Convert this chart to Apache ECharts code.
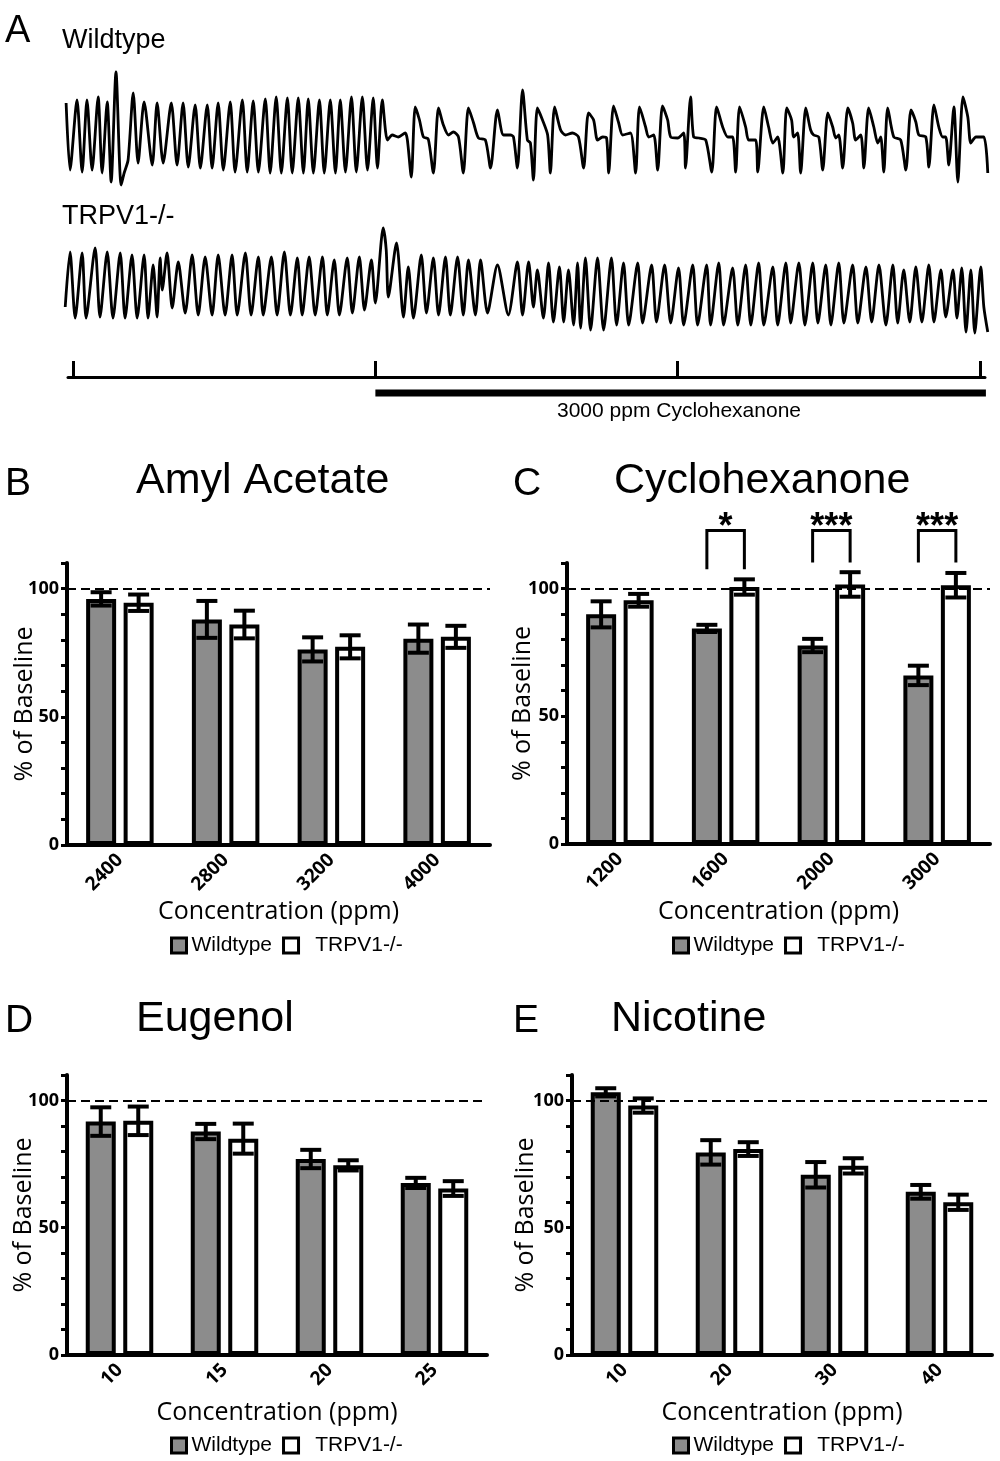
<!DOCTYPE html>
<html><head><meta charset="utf-8">
<script src="https://cdn.jsdelivr.net/npm/echarts@6/dist/echarts.min.js"></script>
<style>html,body{margin:0;padding:0;background:#fff}#c{width:1000px;height:1461px}</style>
</head><body><div id="c"></div>
<script>
// ---------- Panel A: respiratory traces (time in s, signal in a.u.) ----------
const wildtypeTrace = [[-0.23,3.4],[-0.10,-3.3],[0.13,3.7],[0.30,-3.5],[0.46,3.7],[0.63,-3.3],[0.83,4.0],[0.96,-3.6],[1.13,3.5],[1.26,-4.5],[1.42,6.5],[1.59,-4.8],[1.69,-3.6],[1.82,-2.3],[1.99,4.4],[2.15,-2.6],[2.35,3.5],[2.62,-2.8],[2.78,3.4],[2.98,-2.6],[3.25,3.4],[3.44,-2.8],[3.64,3.4],[3.81,-3.0],[4.04,3.2],[4.21,-3.1],[4.44,3.2],[4.60,-3.1],[4.80,3.4],[4.97,-3.3],[5.20,3.5],[5.36,-3.5],[5.60,3.7],[5.76,-3.5],[5.96,3.6],[6.13,-3.5],[6.36,3.8],[6.52,-3.6],[6.72,4.0],[6.89,-3.6],[7.09,3.9],[7.25,-3.6],[7.45,3.9],[7.62,-3.6],[7.78,3.8],[7.95,-3.6],[8.15,3.7],[8.31,-3.6],[8.51,3.7],[8.68,-3.6],[8.84,3.7],[9.01,-3.5],[9.21,4.0],[9.37,-3.5],[9.57,4.0],[9.74,-3.3],[9.93,3.9],[10.07,-3.1],[10.23,3.7],[10.40,-0.3],[10.56,0.2],[10.76,0.0],[10.99,0.4],[11.06,-0.3],[11.19,-4.0],[11.32,3.0],[11.46,1.7],[11.59,0.0],[11.75,-0.2],[11.92,-3.6],[12.09,2.9],[12.25,1.2],[12.42,0.2],[12.58,0.5],[12.75,0.0],[12.91,-3.6],[13.08,2.9],[13.25,1.4],[13.41,-0.1],[13.64,-0.3],[13.81,-3.1],[14.04,2.7],[14.24,0.2],[14.47,0.2],[14.57,0.0],[14.70,-3.1],[14.87,4.7],[15.03,-0.3],[15.13,-0.6],[15.23,-4.3],[15.36,2.9],[15.53,1.7],[15.70,0.2],[15.79,-3.6],[15.93,3.0],[16.13,0.7],[16.29,0.2],[16.52,0.4],[16.72,0.0],[16.89,-3.1],[17.05,2.4],[17.22,1.7],[17.35,-0.3],[17.52,0.0],[17.65,-0.1],[17.72,-3.6],[17.88,3.1],[18.05,1.4],[18.18,0.2],[18.44,0.4],[18.61,-3.6],[18.74,3.0],[18.94,1.0],[19.04,0.0],[19.21,0.2],[19.34,-3.3],[19.50,3.1],[19.67,1.7],[19.77,0.0],[20.00,-0.1],[20.20,0.4],[20.26,-3.1],[20.43,4.0],[20.53,0.0],[20.70,-0.1],[20.93,-0.3],[21.13,-3.5],[21.29,3.0],[21.49,1.0],[21.66,0.0],[21.82,0.0],[21.92,-3.5],[22.05,3.0],[22.25,1.0],[22.35,-0.3],[22.58,-0.3],[22.65,-3.5],[22.85,3.0],[23.01,1.0],[23.15,-0.6],[23.31,0.0],[23.48,-3.6],[23.61,2.9],[23.77,1.7],[23.84,0.0],[23.97,0.4],[24.07,-3.6],[24.24,2.9],[24.40,0.7],[24.50,0.2],[24.67,0.0],[24.80,-3.3],[24.97,2.4],[25.13,1.0],[25.23,-0.1],[25.33,0.2],[25.46,-3.1],[25.63,2.9],[25.79,1.4],[25.89,-0.3],[26.06,0.2],[26.16,-3.1],[26.32,2.9],[26.49,1.0],[26.62,-0.6],[26.72,0.0],[26.82,-3.5],[26.95,2.9],[27.15,0.0],[27.38,-0.3],[27.55,-3.3],[27.72,2.7],[27.88,1.5],[27.98,0.2],[28.21,0.0],[28.31,-3.0],[28.48,3.2],[28.64,1.0],[28.77,0.0],[28.87,0.0],[28.97,-2.8],[29.14,3.0],[29.27,-4.5],[29.44,4.0],[29.60,2.0],[29.70,-0.6],[29.87,0.0],[30.13,0.0],[30.26,-3.6]];
const knockoutTrace = [[-0.26,-2.2],[-0.10,3.3],[0.07,-3.3],[0.30,3.2],[0.43,-3.3],[0.73,3.7],[0.89,-3.2],[1.13,3.3],[1.32,-3.3],[1.56,3.2],[1.72,-3.3],[1.95,3.0],[2.12,-3.3],[2.35,3.0],[2.48,-3.3],[2.65,2.0],[2.78,-3.2],[2.88,2.7],[2.95,-0.5],[3.11,3.2],[3.28,-2.3],[3.48,2.3],[3.71,-2.8],[3.94,3.0],[4.14,-3.0],[4.37,2.8],[4.60,-3.0],[4.80,3.0],[5.03,-3.0],[5.26,3.0],[5.43,-3.0],[5.70,3.2],[5.89,-3.0],[6.13,2.8],[6.29,-3.0],[6.56,2.8],[6.75,-3.0],[6.99,3.3],[7.19,-3.0],[7.42,2.7],[7.58,-3.0],[7.81,2.8],[8.01,-3.0],[8.25,2.8],[8.41,-3.0],[8.64,2.5],[8.81,-3.0],[9.07,2.7],[9.24,-2.8],[9.47,2.8],[9.64,-2.5],[9.87,2.5],[10.00,-1.8],[10.26,5.7],[10.36,3.5],[10.43,-1.2],[10.70,4.2],[10.93,-3.2],[11.09,1.8],[11.26,-3.3],[11.52,3.0],[11.69,-2.8],[11.92,2.7],[12.09,-3.0],[12.32,2.8],[12.48,-3.0],[12.72,2.8],[12.91,-3.0],[13.08,2.5],[13.31,-3.0],[13.48,2.5],[13.71,-2.8],[14.04,2.0],[14.40,-3.0],[14.70,2.3],[14.87,-3.0],[15.07,2.3],[15.23,-2.2],[15.36,1.5],[15.56,-3.3],[15.73,2.2],[15.89,-3.7],[16.09,1.8],[16.23,-3.7],[16.39,1.5],[16.56,-4.0],[16.69,2.2],[16.79,-4.3],[16.95,2.7],[17.12,-4.5],[17.35,2.7],[17.55,-4.5],[17.81,2.7],[17.98,-4.0],[18.21,2.2],[18.38,-4.0],[18.68,2.2],[18.84,-3.8],[19.14,2.0],[19.30,-3.7],[19.57,2.0],[19.77,-3.8],[20.03,1.7],[20.20,-4.0],[20.50,2.0],[20.66,-4.0],[20.96,2.0],[21.09,-4.0],[21.36,2.2],[21.52,-4.0],[21.82,1.7],[21.99,-4.0],[22.25,2.0],[22.42,-4.0],[22.68,2.2],[22.85,-4.0],[23.15,1.8],[23.31,-4.0],[23.58,2.2],[23.74,-3.8],[24.01,2.2],[24.21,-4.0],[24.47,2.2],[24.64,-3.8],[24.90,2.0],[25.07,-4.0],[25.33,2.2],[25.50,-3.8],[25.79,2.0],[25.96,-3.8],[26.23,1.8],[26.42,-3.7],[26.66,2.0],[26.89,-4.0],[27.12,2.0],[27.28,-3.8],[27.48,1.5],[27.68,-3.7],[27.88,1.8],[28.08,-3.7],[28.31,2.0],[28.48,-3.7],[28.71,1.5],[28.87,-3.2],[29.11,1.5],[29.24,-3.3],[29.40,1.7],[29.54,-4.7],[29.70,1.5],[29.83,-4.8],[30.03,1.8],[30.13,-2.2],[30.26,-4.7]];
const timelineTicks = [0, 10, 20, 30];
const stimulusWindow = [10, 30.2];
const stimulusLabel = '3000 ppm Cyclohexanone';

// ---------- Panels B-E: % of baseline (mean, SEM) ----------
const amylConc = ['2400', '2800', '3200', '4000'];
const amylWT = [96, 88, 76.3, 80.5];
const amylWTErr = [2.6, 7.2, 4.7, 5.5];
const amylKO = [94.5, 86, 77.3, 81.2];
const amylKOErr = [3.2, 5.4, 4.5, 4.3];

const cycloConc = ['1200', '1600', '2000', '3000'];
const cycloWT = [89.9, 84.4, 77.7, 66];
const cycloWTErr = [5.1, 1.4, 2.6, 3.8];
const cycloKO = [95.4, 100.6, 101.6, 101.3];
const cycloKOErr = [2.5, 3, 4.8, 4.8];
const cycloSigCats = [1, 2, 3];
const cycloSigLabels = ['*', '***', '***'];
const cycloSigTop = [122.7, 122.7, 122.7];
const cycloSigBottom = [107.6, 110.2, 110.2];

const eugenolConc = ['10', '15', '20', '25'];
const eugenolWT = [91.7, 87.8, 77, 67.6];
const eugenolWTErr = [5.6, 3, 3.6, 2];
const eugenolKO = [92, 85, 74.5, 65.4];
const eugenolKOErr = [5.6, 5.9, 2, 2.9];

const nicotineConc = ['10', '20', '30', '40'];
const nicotineWT = [103.2, 79.6, 70.8, 64.1];
const nicotineWTErr = [1.6, 4.8, 5, 2.7];
const nicotineKO = [98, 80.9, 74.3, 60];
const nicotineKOErr = [2.8, 2.7, 3, 3];

const groupNames = ['Wildtype', 'TRPV1-/-'];
const yTickLabels = [0, 50, 100];

// ---------- styles ----------
const BAR_W = 30, BAR_GAP = 0.25;
const OFFSET = BAR_W * (1 + BAR_GAP) / 2;
const SANS = 'Liberation Sans';
const MYR = 'Open Sans';
const chart = echarts.init(document.getElementById('c'), null, {renderer: 'canvas'});

const grids = [
  {left: 64, top: 67, width: 928, height: 120},
  {left: 64, top: 220, width: 928, height: 120},
  {left: 68, top: 357, width: 917, height: 40},
  {left: 67, top: 563, width: 423, height: 282},
  {left: 567, top: 563, width: 423, height: 281},
  {left: 67, top: 1075, width: 420, height: 280},
  {left: 572, top: 1075, width: 420, height: 280}
];

const xAxes = [
  {gridIndex: 0, type: 'value', min: -0.3, max: 30.4, show: false},
  {gridIndex: 1, type: 'value', min: -0.3, max: 30.4, show: false},
  {gridIndex: 2, type: 'value', min: -0.17, max: 30.17, splitLine: {show: false},
   axisLine: {show: true, onZero: true, lineStyle: {color: '#000', width: 3}},
   axisTick: {show: true, inside: true, length: 16, customValues: timelineTicks, lineStyle: {color: '#000', width: 3}},
   axisLabel: {show: false}}
];
const yAxes = [
  {gridIndex: 0, type: 'value', min: -5, max: 7, show: false},
  {gridIndex: 1, type: 'value', min: -5.5, max: 6.5, show: false},
  {gridIndex: 2, type: 'value', min: -1, max: 1, show: false}
];

const series = [
  {type: 'line', xAxisIndex: 0, yAxisIndex: 0, data: wildtypeTrace, showSymbol: false, smooth: 0.25,
   lineStyle: {color: '#000', width: 2.8}},
  {type: 'line', xAxisIndex: 1, yAxisIndex: 1, data: knockoutTrace, showSymbol: false, smooth: 0.25,
   lineStyle: {color: '#000', width: 2.8}},
  {type: 'line', xAxisIndex: 2, yAxisIndex: 2, data: stimulusWindow.map(t => [t, -0.8]), showSymbol: false,
   lineStyle: {color: '#000', width: 7, cap: 'butt'}}
];

const panels = [
  {g: 3, cats: amylConc, wt: amylWT, wtE: amylWTErr, ko: amylKO, koE: amylKOErr, xGap: 54, yGap: 30},
  {g: 4, cats: cycloConc, wt: cycloWT, wtE: cycloWTErr, ko: cycloKO, koE: cycloKOErr, xGap: 55, yGap: 32},
  {g: 5, cats: eugenolConc, wt: eugenolWT, wtE: eugenolWTErr, ko: eugenolKO, koE: eugenolKOErr, xGap: 45, yGap: 31},
  {g: 6, cats: nicotineConc, wt: nicotineWT, wtE: nicotineWTErr, ko: nicotineKO, koE: nicotineKOErr, xGap: 45, yGap: 34}
];

panels.forEach(p => {
  xAxes.push({
    gridIndex: p.g, type: 'category', data: p.cats, boundaryGap: true,
    axisLine: {lineStyle: {color: '#000', width: 4}},
    axisTick: {alignWithLabel: true, length: 7, lineStyle: {color: '#000', width: 3}},
    axisLabel: {rotate: 45, color: '#000', fontWeight: 'bold', fontSize: 19, fontFamily: MYR, margin: 12},
    name: 'Concentration (ppm)', nameLocation: 'middle', nameGap: p.xGap,
    nameTextStyle: {color: '#000', fontSize: 25, fontFamily: MYR}
  });
  yAxes.push({
    gridIndex: p.g, type: 'value', min: 0, max: 110, interval: 10,
    splitLine: {show: false},
    axisLine: {show: true, lineStyle: {color: '#000', width: 4}},
    axisTick: {show: true, length: 6, lineStyle: {color: '#000', width: 3}},
    axisLabel: {color: '#000', fontWeight: 'bold', fontSize: 18, fontFamily: MYR, margin: 8,
      formatter: v => yTickLabels.indexOf(v) >= 0 ? String(v) : ''},
    name: '% of Baseline', nameLocation: 'middle', nameGap: p.yGap, nameRotate: 90,
    nameMoveOverlap: false,
    nameTextStyle: {color: '#000', fontSize: 25, fontFamily: MYR}
  });
  series.push({
    name: groupNames[0], type: 'bar', xAxisIndex: p.g, yAxisIndex: p.g, data: p.wt,
    barWidth: BAR_W, barGap: (BAR_GAP * 100) + '%',
    itemStyle: {color: '#8c8c8c', borderColor: '#000', borderWidth: 4},
    markLine: {symbol: 'none', silent: true, label: {show: false},
      lineStyle: {type: [9, 5], color: '#000', width: 2}, data: [{yAxis: 100}]}
  });
  series.push({
    name: groupNames[1], type: 'bar', xAxisIndex: p.g, yAxisIndex: p.g, data: p.ko,
    barWidth: BAR_W, barGap: (BAR_GAP * 100) + '%',
    itemStyle: {color: '#fff', borderColor: '#000', borderWidth: 4}
  });
  const errData = [];
  p.wt.forEach((v, i) => errData.push([i, v - p.wtE[i], v + p.wtE[i], 0]));
  p.ko.forEach((v, i) => errData.push([i, v - p.koE[i], v + p.koE[i], 1]));
  series.push({
    type: 'custom', xAxisIndex: p.g, yAxisIndex: p.g, data: errData, z: 5,
    encode: {x: 0, y: [1, 2]},
    renderItem: (params, api) => {
      const lo = api.coord([api.value(0), api.value(1)]);
      const hi = api.coord([api.value(0), api.value(2)]);
      const x = lo[0] + (api.value(3) ? 1 : -1) * OFFSET;
      const cap = 10.5, st = {stroke: '#000', lineWidth: 4};
      return {type: 'group', children: [
        {type: 'line', shape: {x1: x, y1: lo[1], x2: x, y2: hi[1]}, style: st},
        {type: 'line', shape: {x1: x - cap, y1: lo[1], x2: x + cap, y2: lo[1]}, style: st},
        {type: 'line', shape: {x1: x - cap, y1: hi[1], x2: x + cap, y2: hi[1]}, style: st}
      ]};
    }
  });
});

// significance brackets for Cyclohexanone
series.push({
  type: 'custom', xAxisIndex: 4, yAxisIndex: 4, z: 6, clip: false,
  data: cycloSigCats.map((c, i) => [c, cycloSigTop[i], cycloSigBottom[i]]),
  encode: {x: 0, y: [1, 2]},
  renderItem: (params, api) => {
    const top = api.coord([api.value(0), api.value(1)]);
    const bot = api.coord([api.value(0), api.value(2)]);
    const xl = top[0] - OFFSET, xr = top[0] + OFFSET;
    return {type: 'group', children: [
      {type: 'polyline', shape: {points: [[xl, bot[1]], [xl, top[1]], [xr, top[1]], [xr, bot[1]]]},
       style: {stroke: '#000', lineWidth: 3, fill: null}},
      {type: 'text', x: top[0], y: top[1] + 16,
       style: {text: cycloSigLabels[params.dataIndex], fill: '#000', font: 'bold 36px "Liberation Sans"',
         align: 'center', verticalAlign: 'bottom', textAlign: 'center', textVerticalAlign: 'bottom'}}
    ]};
  }
});

const T = (text, left, top, size, extra) => Object.assign({
  text, left, top, padding: 0,
  textStyle: {fontSize: size, fontWeight: 'normal', fontFamily: SANS, color: '#000', lineHeight: size}
}, extra || {});

const titles = [
  T('A', 5, 13, 38), T('Wildtype', 62, 27, 27), T('TRPV1-/-', 62, 203, 27),
  T(stimulusLabel, 679, 401, 21, {textAlign: 'center'}),
  T('B', 5, 465, 39), T('Amyl Acetate', 136, 460, 43),
  T('C', 513, 465, 39), T('Cyclohexanone', 614, 460, 43),
  T('D', 5, 1002, 39), T('Eugenol', 136, 998, 43),
  T('E', 513, 1002, 39), T('Nicotine', 611, 998, 43)
];

const L = (left, top) => ({
  data: groupNames, left, top, padding: 0, itemWidth: 15, itemHeight: 15, itemGap: 10,
  icon: 'rect', selectedMode: false,
  formatter: name => name === groupNames[1] ? '  ' + name : name,
  itemStyle: {borderColor: '#000', borderWidth: 3},
  textStyle: {fontSize: 21, fontFamily: SANS, color: '#000'}
});

chart.setOption({
  animation: false,
  backgroundColor: '#fff',
  title: titles,
  legend: [L(170, 935), L(672, 935), L(170, 1435), L(672, 1435)],
  grid: grids,
  xAxis: xAxes,
  yAxis: yAxes,
  series
});
</script></body></html>
